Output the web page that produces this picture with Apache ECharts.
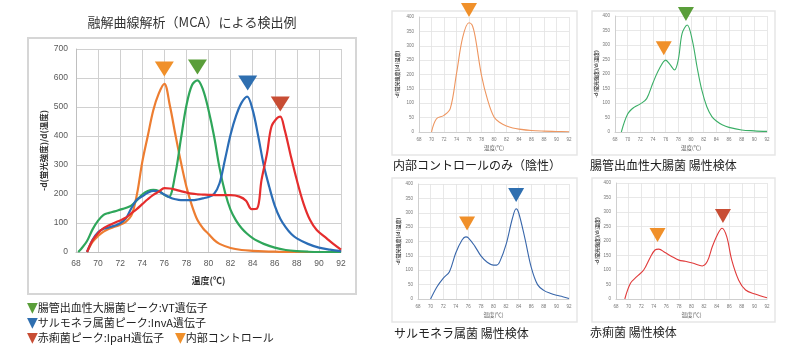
<!DOCTYPE html>
<html>
<head>
<meta charset="utf-8">
<script src="https://cdn.jsdelivr.net/npm/echarts@6/dist/echarts.min.js"></script>
<style>
  html, body { margin: 0; padding: 0; background: #fff; }
  #chart { width: 793px; height: 353px; }
</style>
</head>
<body>
<div id="chart"></div>
<script>
// 大きいグラフ (4本)
const mainOrangeT = [69, 69.5, 70, 70.5, 71, 71.5, 72, 72.5, 73, 73.3, 73.6, 74, 74.5, 75, 75.5, 76, 76.5, 77, 77.5, 78, 78.5, 79, 79.5, 80, 80.5, 81, 82, 83, 84, 85, 86, 88, 92];
const mainOrangeV = [0, 35, 55, 70, 80, 87, 94, 104, 125, 160, 215, 310, 400, 489, 547, 580, 505, 405, 310, 225, 160, 110, 82, 62, 42, 28, 14, 7, 4, 2, 1, 0, 0];

const mainGreenT = [68.2, 68.5, 69, 69.5, 70, 70.5, 71, 71.5, 72, 72.5, 73, 73.5, 74, 74.5, 75, 75.5, 76, 76.4, 77, 77.5, 78, 78.5, 79, 79.5, 80, 80.5, 81, 81.5, 82, 82.5, 83, 83.5, 84, 84.5, 85, 86, 87, 88, 89, 90, 92];
const mainGreenV = [0, 12, 38, 78, 108, 128, 135, 140, 146, 152, 160, 178, 198, 210, 214, 210, 197, 190, 270, 390, 505, 575, 592, 560, 490, 400, 290, 205, 145, 108, 82, 63, 48, 37, 28, 15, 7, 3, 1, 0, 0];

const mainBlueT = [69, 69.5, 70, 70.5, 71, 71.5, 72, 72.5, 73, 73.5, 74, 74.5, 75, 75.5, 76, 76.5, 77, 77.5, 78, 78.5, 79, 79.5, 80, 80.5, 81, 81.5, 82, 82.5, 83, 83.5, 84, 84.5, 85, 85.5, 86, 86.5, 87, 87.5, 88, 89, 90, 91, 92];
const mainBlueV = [0, 42, 68, 80, 85, 91, 99, 115, 150, 180, 192, 204, 211, 209, 198, 188, 182, 179, 179, 179, 181, 185, 190, 200, 237, 320, 405, 470, 515, 536, 490, 400, 300, 225, 160, 115, 85, 62, 47, 28, 15, 8, 3];

const mainRedT = [69, 69.5, 70, 70.5, 71, 71.5, 72, 72.5, 73, 73.5, 74, 74.5, 75, 75.5, 76, 76.5, 77, 77.5, 78, 78.5, 79, 79.5, 80, 81, 82, 82.8, 83.4, 83.9, 84.4, 84.8, 85.3, 85.7, 86.2, 86.5, 86.9, 87.4, 88, 88.6, 89.2, 89.8, 90.7, 91.3, 92];
const mainRedV = [0, 40, 65, 82, 92, 101, 109, 118, 133, 148, 165, 182, 197, 208, 220, 219, 215, 210, 205, 201, 199, 198, 197, 196, 196, 191, 177, 148, 150, 248, 340, 432, 461, 467, 421, 340, 248, 168, 110, 76, 47, 28, 8];

// 大きいグラフの▼ (橙, 緑, 青, 赤)
const mainMarkT = [76, 79, 83.55, 86.5];
const mainMarkV = [631, 638, 583, 510];

// 小さいグラフ
const ctrlT = [70, 70.8, 72, 73, 74, 75, 76, 76.5, 77, 78, 79, 80, 81, 82, 83, 84, 86, 88, 90, 92];
const ctrlV = [0, 46, 58, 81, 203, 330, 380, 372, 330, 197, 110, 52, 32, 21, 14, 10, 5, 3, 2, 1];
const ctrlMarkT = [76];
const ctrlMarkV = [424];

const ehecT = [69, 70, 71, 72, 73, 74, 75, 76, 76.7, 77.4, 78, 78.6, 79.4, 80.2, 81, 81.7, 82.5, 83.3, 84, 85, 86, 88, 90, 92];
const ehecV = [0, 62, 85, 97, 115, 170, 218, 248, 232, 214, 250, 340, 369, 317, 219, 145, 87, 53, 38, 24, 16, 7, 4, 2];
const ehecMarkT = [75.7, 79.2];
const ehecMarkV = [289, 407];

const salmT = [70, 71, 72, 73, 74, 75, 75.6, 76, 77, 78, 79, 80, 80.5, 81, 82, 83, 83.6, 84, 85, 86, 87, 88, 89, 90, 91, 92];
const salmV = [0, 42, 72, 95, 160, 205, 216, 213, 185, 150, 128, 118, 118, 130, 190, 280, 314, 300, 210, 110, 50, 30, 20, 13, 8, 2];
const salmMarkT = [75.8, 83.6];
const salmMarkV = [263, 362];

const shigT = [69.4, 70.3, 71.3, 72.4, 73.5, 74.2, 74.8, 75.8, 77, 78, 79, 80.3, 81.7, 82.5, 83.3, 84.1, 84.85, 85.6, 86.4, 87.5, 88.6, 90.1, 92];
const shigV = [0, 54, 77, 100, 146, 169, 172, 160, 145, 134, 130, 123, 114, 129, 180, 221, 244, 215, 134, 65, 31, 17, 4];
const shigMarkT = [74.6, 85.0];
const shigMarkV = [221, 286];

const C_ORANGE = '#ED7D31', C_GREEN = '#2FA65A', C_BLUE = '#2B6DB6', C_RED = '#E52D2D';
const M_ORANGE = '#F0902A', M_GREEN = '#5A9E3A', M_BLUE = '#2F6FB0', M_RED = '#C84D34';
const JP = '"Noto Sans CJK JP", "Noto Sans", sans-serif';

function zip(t, v) {
  return t.map((x, i) => [x, v[i]]);
}

function lineSeries(idx, t, v, color, width) {
  return {
    type: 'line', xAxisIndex: idx, yAxisIndex: idx,
    data: zip(t, v), smooth: 0.35, showSymbol: false,
    lineStyle: { color: color, width: width }, z: 3
  };
}

function markSeries(idx, t, v, colors, size) {
  return {
    type: 'scatter', xAxisIndex: idx, yAxisIndex: idx, clip: false,
    symbol: 'triangle', symbolRotate: 180, symbolSize: size,
    data: zip(t, v).map((p, i) => ({ value: p, itemStyle: { color: colors[i], opacity: 1 } })),
    z: 5
  };
}

function smallX(idx) {
  return {
    gridIndex: idx, type: 'value', min: 68, max: 92, interval: 2,
    name: '温度(℃)', nameLocation: 'middle', nameGap: 13,
    nameTextStyle: { fontSize: 5.5, color: '#555', fontFamily: JP },
    axisLine: { show: true, lineStyle: { color: '#cfcfcf' } }, axisTick: { show: false },
    axisLabel: { fontSize: 4.5, color: '#777', margin: 5 },
    splitLine: { show: true, lineStyle: { color: '#e2e2e2', width: 0.8 } }
  };
}

function smallY(idx, gap) {
  return {
    gridIndex: idx, type: 'value', min: 0, max: 400, interval: 50,
    name: '-d(蛍光強度)/d(温度)', nameLocation: 'middle', nameGap: gap,
    nameTextStyle: { fontSize: 5, color: '#444', fontWeight: 'bold', fontFamily: JP },
    axisLine: { show: true, lineStyle: { color: '#cfcfcf' } }, axisTick: { show: false },
    axisLabel: { fontSize: 4.5, color: '#777', margin: 5 },
    splitLine: { show: true, lineStyle: { color: '#e2e2e2', width: 0.8 } }
  };
}

const chart = echarts.init(document.getElementById('chart'), null, { renderer: 'canvas' });

const option = {
  backgroundColor: '#fff',
  animation: false,
  grid: [
    { left: 76, top: 49, width: 265, height: 203 },
    { left: 419, top: 17, width: 150, height: 115 },
    { left: 615, top: 16, width: 152, height: 116 },
    { left: 418, top: 184, width: 151, height: 115 },
    { left: 616, top: 183, width: 151, height: 116 }
  ],
  xAxis: [
    {
      gridIndex: 0, type: 'value', min: 68, max: 92, interval: 2,
      name: '温度(℃)', nameLocation: 'middle', nameGap: 24,
      nameTextStyle: { fontSize: 9, color: '#333', fontWeight: 'bold', fontFamily: JP },
      axisLine: { show: true, lineStyle: { color: '#bfbfbf' } }, axisTick: { show: false },
      axisLabel: { fontSize: 8.5, color: '#595959', margin: 7 },
      splitLine: { show: true, lineStyle: { color: '#d0d0d0' } }
    },
    smallX(1), smallX(2), smallX(3), smallX(4)
  ],
  yAxis: [
    {
      gridIndex: 0, type: 'value', min: 0, max: 700, interval: 100,
      name: '-d(蛍光強度)/d(温度)', nameLocation: 'middle', nameGap: 28,
      nameTextStyle: { fontSize: 8.5, color: '#333', fontWeight: 'bold', fontFamily: JP },
      axisLine: { show: true, lineStyle: { color: '#bfbfbf' } }, axisTick: { show: false },
      axisLabel: { fontSize: 8.5, color: '#595959', margin: 8 },
      splitLine: { show: true, lineStyle: { color: '#d0d0d0' } }
    },
    smallY(1, 19), smallY(2, 16), smallY(3, 17), smallY(4, 16)
  ],
  series: [
    lineSeries(0, mainOrangeT, mainOrangeV, C_ORANGE, 2.2),
    lineSeries(0, mainGreenT, mainGreenV, C_GREEN, 2.2),
    lineSeries(0, mainBlueT, mainBlueV, C_BLUE, 2.2),
    lineSeries(0, mainRedT, mainRedV, C_RED, 2.2),
    markSeries(0, mainMarkT, mainMarkV, [M_ORANGE, M_GREEN, M_BLUE, M_RED], [19, 15]),

    lineSeries(1, ctrlT, ctrlV, '#EE9660', 1.1),
    markSeries(1, ctrlMarkT, ctrlMarkV, [M_ORANGE], [16, 14]),
    lineSeries(2, ehecT, ehecV, '#3AAE66', 1.1),
    markSeries(2, ehecMarkT, ehecMarkV, [M_ORANGE, M_GREEN], [16, 14]),
    lineSeries(3, salmT, salmV, '#3866AA', 1.1),
    markSeries(3, salmMarkT, salmMarkV, [M_ORANGE, M_BLUE], [16, 14]),
    lineSeries(4, shigT, shigV, '#E03A3A', 1.1),
    markSeries(4, shigMarkT, shigMarkV, [M_ORANGE, M_RED], [16, 14])
  ],
  graphic: [
    { type: 'rect', shape: { x: 28, y: 38, width: 328, height: 256 }, style: { fill: null, stroke: '#d6d6d6', lineWidth: 2 }, z: 0 },
    { type: 'rect', shape: { x: 392, y: 11, width: 185, height: 144 }, style: { fill: null, stroke: '#e6e6e6', lineWidth: 1.5 }, z: 0 },
    { type: 'rect', shape: { x: 592, y: 11, width: 183, height: 144 }, style: { fill: null, stroke: '#e6e6e6', lineWidth: 1.5 }, z: 0 },
    { type: 'rect', shape: { x: 392, y: 178, width: 185, height: 144 }, style: { fill: null, stroke: '#e6e6e6', lineWidth: 1.5 }, z: 0 },
    { type: 'rect', shape: { x: 592, y: 178, width: 183, height: 144 }, style: { fill: null, stroke: '#e6e6e6', lineWidth: 1.5 }, z: 0 },

    { type: 'text', x: 192, y: 22, style: { text: '融解曲線解析（MCA）による検出例', fontSize: 13, fill: '#333', fontFamily: JP, align: 'center', verticalAlign: 'middle' } },

    { type: 'text', x: 27, y: 308, style: { text: '{g|▼}腸管出血性大腸菌ピーク:VT遺伝子', fontSize: 11, fill: '#222', fontFamily: JP, verticalAlign: 'middle', rich: { g: { fill: M_GREEN, fontSize: 14, fontFamily: 'DejaVu Sans' } } } },
    { type: 'text', x: 27, y: 323, style: { text: '{b|▼}サルモネラ属菌ピーク:InvA遺伝子', fontSize: 11, fill: '#222', fontFamily: JP, verticalAlign: 'middle', rich: { b: { fill: M_BLUE, fontSize: 14, fontFamily: 'DejaVu Sans' } } } },
    { type: 'text', x: 27, y: 338, style: { text: '{r|▼}赤痢菌ピーク:IpaH遺伝子　{o|▼}内部コントロール', fontSize: 11, fill: '#222', fontFamily: JP, verticalAlign: 'middle', rich: { r: { fill: M_RED, fontSize: 14, fontFamily: 'DejaVu Sans' }, o: { fill: M_ORANGE, fontSize: 14, fontFamily: 'DejaVu Sans' } } } },

    { type: 'text', x: 393, y: 165, style: { text: '内部コントロールのみ（陰性）', fontSize: 12, fill: '#222', fontFamily: JP, verticalAlign: 'middle' } },
    { type: 'text', x: 590, y: 165, style: { text: '腸管出血性大腸菌 陽性検体', fontSize: 12, fill: '#222', fontFamily: JP, verticalAlign: 'middle' } },
    { type: 'text', x: 394, y: 333, style: { text: 'サルモネラ属菌 陽性検体', fontSize: 12, fill: '#222', fontFamily: JP, verticalAlign: 'middle' } },
    { type: 'text', x: 590, y: 332, style: { text: '赤痢菌 陽性検体', fontSize: 12, fill: '#222', fontFamily: JP, verticalAlign: 'middle' } }
  ]
};

chart.setOption(option);
</script>
</body>
</html>
